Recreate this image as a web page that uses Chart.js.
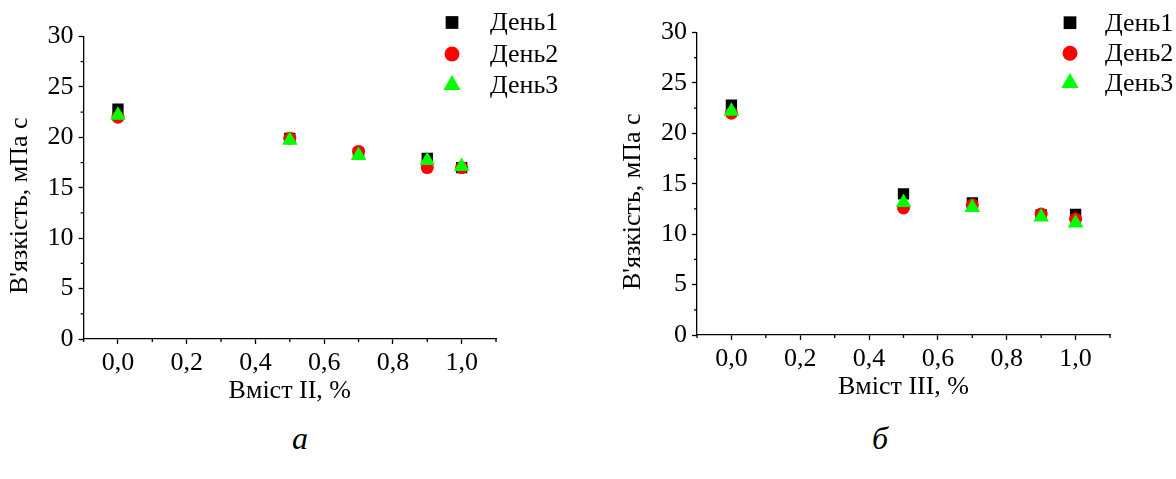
<!DOCTYPE html>
<html>
<head>
<meta charset="utf-8">
<script src="https://cdn.jsdelivr.net/npm/chart.js@4"></script>
<style>
  body { margin: 0; background: #fff; width: 1176px; height: 479px; position: relative; overflow: hidden; }
  canvas { position: absolute; top: 0; }
  .cap { position: absolute; font-family: "Liberation Serif", "Times New Roman", serif; font-style: italic; font-size: 32px; color: #000; transform: translate(-50%, -50%); }
</style>
</head>
<body>
<canvas id="chartA" width="588" height="410" style="left:0"></canvas>
<canvas id="chartB" width="588" height="406" style="left:588px"></canvas>
<div class="cap" style="left:300px; top:438px">а</div>
<div class="cap" style="left:880px; top:438px">б</div>
<script>
// values
const xVals = [0, 0.5, 0.7, 0.9, 1.0];
const seriesNames = ['День1', 'День2', 'День3'];

const day1A = [22.8, 19.9, 18.4, 17.9, 17.0];
const day2A = [22.0, 19.9, 18.6, 17.0, 17.0];
const day3A = [22.2, 19.7, 18.2, 17.7, 17.1];

const day1B = [22.8, 14.0, 13.1, 11.9, 11.95];
const day2B = [22.0, 12.6, 12.9, 12.0, 11.5];
const day3B = [22.2, 13.15, 12.65, 11.7, 11.1];

const xMajor = [0, 0.2, 0.4, 0.6, 0.8, 1.0];
const xMinor = [-0.1, 0.1, 0.3, 0.5, 0.7, 0.9, 1.1];
const yMajor = [0, 5, 10, 15, 20, 25, 30];
const yMinor = [2.5, 7.5, 12.5, 17.5, 22.5, 27.5];

const yTitle = "В'язкість, мПа с";
const font = '"Liberation Serif", "Times New Roman", serif';

const styles = [
  { pointStyle: 'rect', radius: 8, color: '#000000', order: 3 },
  { pointStyle: 'circle', radius: 6.5, color: '#ff0000', order: 2 },
  { pointStyle: 'triangle', radius: 9, color: '#00ff00', order: 1 }
];

function toPoints(ys) {
  return xVals.map((x, i) => ({ x: x, y: ys[i] }));
}

// small ticks between the labelled ones
const minorTicks = {
  id: 'minorTicks',
  afterDraw(chart) {
    const c = chart.ctx;
    const xs = chart.scales.x, ys = chart.scales.y;
    c.save();
    c.strokeStyle = '#000';
    c.lineWidth = 1.3;
    c.beginPath();
    xMinor.forEach(v => {
      const px = xs.getPixelForValue(v);
      c.moveTo(px, xs.top);
      c.lineTo(px, xs.top + 3);
    });
    yMinor.forEach(v => {
      const py = ys.getPixelForValue(v);
      c.moveTo(ys.right, py);
      c.lineTo(ys.right - 3, py);
    });
    c.stroke();
    c.restore();
  }
};

// y title sits a bit below the middle of the axis in the original
const yTitleDraw = {
  id: 'yTitleDraw',
  afterDraw(chart, args, opts) {
    const c = chart.ctx;
    const area = chart.chartArea;
    c.save();
    c.translate(opts.x, (area.top + area.bottom) / 2 + 18);
    c.rotate(-Math.PI / 2);
    c.font = '26px ' + font;
    c.fillStyle = '#000';
    c.textAlign = 'center';
    c.textBaseline = 'middle';
    c.fillText(yTitle, 0, 0);
    c.restore();
  }
};

// legend in the top right corner
const cornerLegend = {
  id: 'cornerLegend',
  afterDraw(chart, args, opts) {
    const c = chart.ctx;
    c.save();
    c.font = '26px ' + font;
    c.textBaseline = 'middle';
    chart.data.datasets.forEach((ds, i) => {
      const y = opts.rows[i];
      c.fillStyle = ds.backgroundColor;
      Chart.helpers.drawPoint(c, {
        pointStyle: ds.pointStyle,
        radius: ds.pointRadius + 1,
        rotation: 0,
        borderWidth: 0
      }, opts.markX, y);
      c.fillStyle = '#000';
      c.fillText(ds.label, opts.textX, y + 1);
    });
    c.restore();
  }
};

function makeChart(id, days, xTitle, pad, legendPos, titleX) {
  const datasets = days.map((ys, i) => ({
    label: seriesNames[i],
    data: toPoints(ys),
    pointStyle: styles[i].pointStyle,
    pointRadius: styles[i].radius,
    backgroundColor: styles[i].color,
    borderColor: styles[i].color,
    borderWidth: 0,
    order: styles[i].order
  }));

  return new Chart(document.getElementById(id), {
    type: 'scatter',
    data: { datasets: datasets },
    options: {
      responsive: false,
      animation: false,
      layout: { padding: pad },
      plugins: {
        legend: { display: false },
        tooltip: { enabled: false },
        cornerLegend: legendPos,
        yTitleDraw: { x: titleX }
      },
      scales: {
        x: {
          type: 'linear',
          min: -0.1,
          max: 1.1,
          afterBuildTicks: s => { s.ticks = xMajor.map(v => ({ value: v })); },
          afterFit: s => { s.height = 71; },
          grid: { drawOnChartArea: false, tickLength: 5, tickColor: '#000', tickWidth: 1.3 },
          border: { color: '#000', width: 1.3 },
          ticks: {
            color: '#000',
            padding: 4,
            maxRotation: 0,
            font: { family: font, size: 26 },
            callback: v => v.toFixed(1).replace('.', ',')
          },
          title: {
            display: true,
            text: xTitle,
            color: '#000',
            font: { family: font, size: 26 },
            padding: { top: 0, bottom: 3 }
          }
        },
        y: {
          min: 0,
          max: 30,
          afterBuildTicks: s => { s.ticks = yMajor.map(v => ({ value: v })); },
          afterFit: s => { s.width = 83.6; },
          grid: { drawOnChartArea: false, tickLength: 5, tickColor: '#000', tickWidth: 1.3 },
          border: { color: '#000', width: 1.3 },
          ticks: {
            color: '#000',
            padding: 5,
            font: { family: font, size: 26 }
          }
        }
      }
    },
    plugins: [minorTicks, yTitleDraw, cornerLegend]
  });
}

function drawAll() {
  makeChart('chartA', [day1A, day2A, day3A], 'Вміст II, %',
    { top: 36.5, right: 92, left: 0, bottom: 0 },
    { markX: 452, textX: 490, rows: [22.5, 54, 85] }, 20);

  makeChart('chartB', [day1B, day2B, day3B], 'Вміст III, %',
    { top: 32.5, right: 66, left: 25.4, bottom: 0 },
    { markX: 482, textX: 517, rows: [22.7, 53.3, 83] }, 45);
}

document.fonts.load('26px "Liberation Serif"').then(drawAll, drawAll);
</script>
</body>
</html>
